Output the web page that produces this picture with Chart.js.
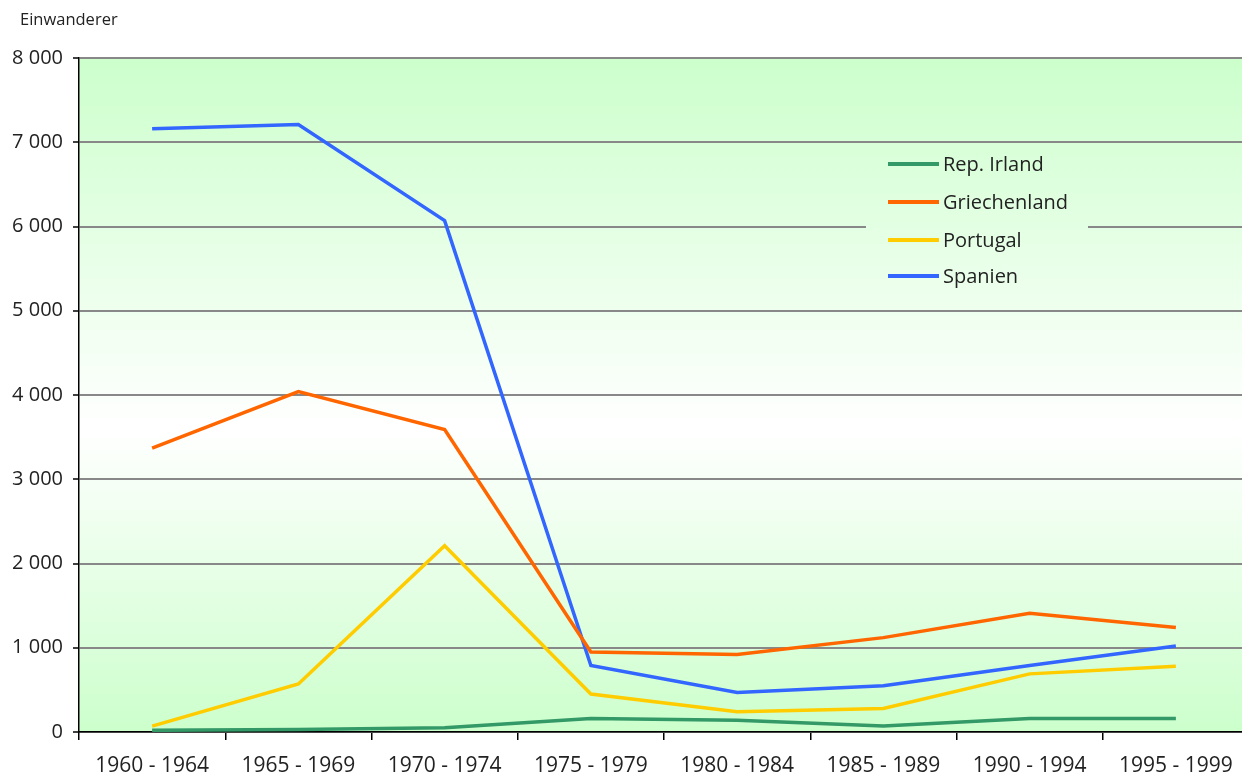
<!DOCTYPE html>
<html>
<head>
<meta charset="utf-8">
<script src="https://cdn.jsdelivr.net/npm/chart.js@4"></script>
<style>
html,body{margin:0;padding:0;background:#fff;overflow:hidden;}
#wrap{width:1252px;height:773px;position:relative;}
</style>
</head>
<body>
<div id="wrap"><canvas id="c"></canvas></div>
<script>
const categories = ['1960 - 1964','1965 - 1969','1970 - 1974','1975 - 1979','1980 - 1984','1985 - 1989','1990 - 1994','1995 - 1999'];
const irland = [20, 30, 50, 160, 140, 70, 160, 160];
const griechenland = [3370, 4040, 3590, 950, 920, 1120, 1410, 1240];
const portugal = [70, 570, 2210, 450, 240, 280, 690, 780];
const spanien = [7160, 7210, 6070, 790, 470, 550, 790, 1020];
const yTicks = [0, 1000, 2000, 3000, 4000, 5000, 6000, 7000, 8000];
const yTitle = 'Einwanderer';

const FONT = '"Open Sans", "DejaVu Sans", sans-serif';

function makeGrad(ctx, area){
  const g = ctx.createLinearGradient(0, area.top, 0, area.bottom);
  g.addColorStop(0, '#ccffcc');
  g.addColorStop(0.55, '#ffffff');
  g.addColorStop(1, '#ccffcc');
  return g;
}

const bgPlugin = {
  id: 'bg',
  beforeDraw(chart){
    const {ctx, chartArea:a} = chart;
    ctx.save();
    ctx.fillStyle = makeGrad(ctx, a);
    ctx.fillRect(a.left, a.top, a.right - a.left, a.bottom - a.top);
    ctx.restore();
  },
  beforeDatasetsDraw(chart){
    const {ctx, chartArea:a} = chart;
    ctx.save();
    ctx.fillStyle = makeGrad(ctx, a);
    ctx.fillRect(866, 146, 222, 152);
    const ys = [164, 202, 240, 276];
    chart.data.datasets.forEach((ds, i) => {
      ctx.strokeStyle = ds.borderColor;
      ctx.lineWidth = 4;
      ctx.beginPath();
      ctx.moveTo(888, ys[i]);
      ctx.lineTo(939, ys[i]);
      ctx.stroke();
      ctx.fillStyle = '#222';
      ctx.font = '20px ' + FONT;
      ctx.textBaseline = 'middle';
      ctx.textAlign = 'left';
      ctx.fillText(ds.label, 943, ys[i] + 1);
    });
    ctx.restore();
  },
  afterDraw(chart){
    const {ctx} = chart;
    ctx.save();
    ctx.fillStyle = '#222';
    ctx.font = '16.5px ' + FONT;
    ctx.textBaseline = 'middle';
    ctx.textAlign = 'left';
    ctx.fillText(yTitle, 20, 20);
    ctx.restore();
  }
};

const fmt = v => String(v).replace(/\B(?=(\d{3})+(?!\d))/g, ' ');

new Chart(document.getElementById('c'), {
  type: 'line',
  data: {
    labels: categories,
    datasets: [
      {label: 'Rep. Irland', data: irland, borderColor: '#339966'},
      {label: 'Griechenland', data: griechenland, borderColor: '#ff6600'},
      {label: 'Portugal', data: portugal, borderColor: '#ffcc00'},
      {label: 'Spanien', data: spanien, borderColor: '#3366ff'}
    ].map(d => Object.assign(d, {borderWidth: 3.5, pointRadius: 0, tension: 0, fill: false}))
  },
  options: {
    responsive: true,
    maintainAspectRatio: false,
    animation: false,
    layout: {padding: {top: 58, right: 3, left: 0, bottom: 0}},
    plugins: {legend: {display: false}, tooltip: {enabled: false}},
    scales: {
      x: {
        offset: true,
        grid: {offset: true, drawOnChartArea: false, drawTicks: true, tickLength: 8, color: '#000', lineWidth: 1.5},
        border: {display: true, color: '#000', width: 1.5},
        ticks: {color: '#222', font: {family: FONT, size: 21}, padding: 13, maxRotation: 0, autoSkip: false},
        afterFit(s){ s.height = 41; }
      },
      y: {
        min: 0, max: 8000,
        afterBuildTicks(s){ s.ticks = yTicks.map(v => ({value: v})); },
        grid: {color: '#888', lineWidth: 2, tickLength: 6, tickColor: '#000', tickWidth: 1.5},
        border: {display: true, color: '#000', width: 1.5},
        ticks: {color: '#222', font: {family: FONT, size: 20}, padding: 10, callback: v => fmt(v)},
        afterFit(s){ s.width = 79; }
      }
    }
  },
  plugins: [bgPlugin]
});
</script>
</body>
</html>
